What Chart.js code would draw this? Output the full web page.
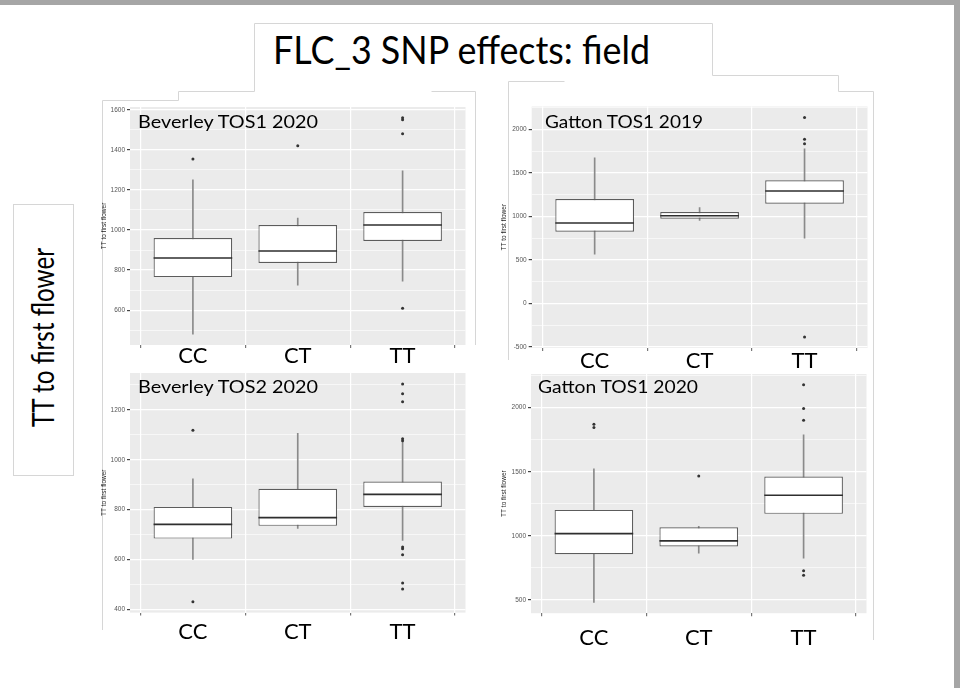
<!DOCTYPE html>
<html>
<head>
<meta charset="utf-8">
<script src="https://cdn.jsdelivr.net/npm/chart.js@4.4.1/dist/chart.umd.min.js"></script>
<style>
html,body{margin:0;padding:0;background:#fff;}
body{width:971px;height:688px;position:relative;overflow:hidden;font-family:Lato,"Open Sans",sans-serif;}
.pane{position:absolute;}
.txt{position:absolute;white-space:nowrap;line-height:1;color:#000;transform-origin:0 0;font-family:Lato,sans-serif;}
</style>
</head>
<body>
<svg width="971" height="688" style="position:absolute;left:0;top:0" xmlns="http://www.w3.org/2000/svg">
  <g fill="none" stroke="#d6d6d6" stroke-width="1">
    <polyline points="254.5,91.5 254.5,23.5 712.5,23.5 712.5,75.5 838.5,75.5 838.5,91.5 873.5,91.5 873.5,640"/>
    <polyline points="102.5,630 102.5,100.5 178.5,100.5 178.5,91.5 254.5,91.5"/>
    <polyline points="431.5,91.5 475.5,91.5 475.5,345"/>
    <polyline points="508.5,360 508.5,81.5 564.5,81.5"/>
    <rect x="13.5" y="204.5" width="60" height="271"/>
  </g>
</svg>
<div style="position:absolute;left:0;top:0;width:960px;height:5px;background:#a6a6a6"></div>
<div style="position:absolute;left:954px;top:0;width:6px;height:688px;background:#a6a6a6"></div>

<div class="pane" style="left:95px;top:93px;width:372px;height:287px"><canvas id="c1"></canvas></div>
<div class="pane" style="left:95px;top:360px;width:372px;height:285px"><canvas id="c2"></canvas></div>
<div class="pane" style="left:495px;top:93px;width:374px;height:290px"><canvas id="c3"></canvas></div>
<div class="pane" style="left:495px;top:360px;width:373px;height:290px"><canvas id="c4"></canvas></div>

<div id="t0" class="txt" style="left:273px;top:30px;font-size:38px">FLC_3 SNP effects: field</div>
<div id="tl" class="txt" style="left:27px;top:427px;font-size:31px">TT to first flower</div>
<div id="t1" class="txt" style="left:138px;top:112px;font-size:18px">Beverley TOS1 2020</div>
<div id="t2" class="txt" style="left:138px;top:377px;font-size:18px">Beverley TOS2 2020</div>
<div id="t3" class="txt" style="left:545px;top:112px;font-size:18px">Gatton TOS1 2019</div>
<div id="t4" class="txt" style="left:538px;top:377px;font-size:18px">Gatton TOS1 2020</div>

<script>
// ---------- data ----------
const categories = ['CC', 'CT', 'TT'];

// Beverley TOS1 2020
const bev1Lower   = [480, 725, 745];
const bev1Q1      = [765, 835, 945];
const bev1Median  = [860, 895, 1025];
const bev1Q3      = [960, 1025, 1090];
const bev1Upper   = [1250, 1060, 1295];
const bev1Outliers = [[1355], [1420], [1560, 1550, 1480, 610]];
const bev1YTicks  = [600, 800, 1000, 1200, 1400, 1600];

// Beverley TOS2 2020
const bev2Lower   = [600, 725, 677];
const bev2Q1      = [684, 735, 811];
const bev2Median  = [741, 768, 861];
const bev2Q3      = [811, 884, 913];
const bev2Upper   = [923, 1106, 1071];
const bev2Outliers = [[1118, 431], [], [1304, 1264, 1232, 1084, 1076, 650, 643, 619, 506, 482]];
const bev2YTicks  = [400, 600, 800, 1000, 1200];

// Gatton TOS1 2019
const gat19Lower  = [566, 955, 750];
const gat19Q1     = [824, 974, 1146];
const gat19Median = [924, 1008, 1292];
const gat19Q3     = [1200, 1051, 1415];
const gat19Upper  = [1672, 1100, 1776];
const gat19Outliers = [[], [], [2136, 1885, 1835, -385]];
const gat19YTicks = [-500, 0, 500, 1000, 1500, 2000];

// Gatton TOS1 2020
const gat20Lower  = [482, 865, 826];
const gat20Q1     = [857, 917, 1172];
const gat20Median = [1018, 961, 1317];
const gat20Q3     = [1203, 1068, 1463];
const gat20Upper  = [1523, 1075, 1788];
const gat20Outliers = [[1870, 1846], [1468], [2178, 1994, 1902, 729, 694]];
const gat20YTicks = [500, 1000, 1500, 2000];

const yAxisTitle = 'TT to first flower';

// ---------- chart building ----------
const bgPlugin = {
  id: 'panelBg',
  beforeDraw(chart) {
    const a = chart.chartArea, ctx = chart.ctx;
    ctx.save();
    ctx.fillStyle = '#ebebeb';
    ctx.fillRect(a.left, a.top, a.right - a.left, a.bottom - a.top);
    ctx.restore();
  }
};

function halfBox(ctx) {
  const s = ctx.chart.scales.x;
  return Math.abs(s.getPixelForValue(2) - s.getPixelForValue(1)) * 0.75 / 2;
}

function gridValues(majors, min, max) {
  const minor = (majors[1] - majors[0]) / 2;
  const out = [];
  for (let v = majors[0] - minor; v <= majors[majors.length - 1] + minor + 1e-9; v += minor) {
    if (v >= min - 1e-9 && v <= max + 1e-9) out.push(v);
  }
  return out;
}

function makePanel(id, d, lay) {
  const xs = categories.map((c, i) => i + 1);
  const all = d.lower.concat(d.upper, d.outliers.flat());
  const lo = Math.min(...all), hi = Math.max(...all);
  const pad = (hi - lo) * 0.05;
  const majors = d.ticks;
  new Chart(document.getElementById(id), {
    data: {
      datasets: [
        { type: 'line', data: xs.map((x, i) => ({ x, y: d.median[i] })), showLine: false,
          pointStyle: 'line', pointRadius: halfBox, pointHoverRadius: halfBox,
          pointBorderColor: '#2e2e2e', pointBorderWidth: 1.6, borderColor: '#2e2e2e' },
        { type: 'line', data: d.outliers.flatMap((arr, i) => arr.map(v => ({ x: i + 1, y: v }))),
          showLine: false, pointStyle: 'circle', pointRadius: 1.5, pointHoverRadius: 1.5,
          pointBackgroundColor: '#333', pointBorderWidth: 0, borderColor: '#333' },
        { type: 'bar', data: xs.map((x, i) => ({ x, y: [d.q1[i], d.q3[i]] })),
          backgroundColor: '#ffffff', borderColor: '#5c5c5c', borderWidth: 1.2, borderSkipped: false,
          barPercentage: 0.75, categoryPercentage: 1, grouped: false },
        { type: 'bar', data: xs.map((x, i) => ({ x, y: [d.lower[i], d.upper[i]] })),
          backgroundColor: '#8a8a8a', barThickness: 1, grouped: false }
      ]
    },
    options: {
      responsive: true, maintainAspectRatio: false, animation: false,
      layout: { padding: { top: lay.top, left: 0, right: 0, bottom: 0 } },
      plugins: { legend: { display: false }, tooltip: { enabled: false } },
      scales: {
        x: {
          type: 'linear', min: 0.4, max: 3.6, offset: false,
          afterBuildTicks: s => { s.ticks = xs.map(v => ({ value: v })); },
          ticks: { autoSkip: false, maxRotation: 0,
                   font: { family: 'Lato', size: 22, lineHeight: 1 }, color: '#000', padding: lay.xPad,
                   callback: v => categories[Math.round(v) - 1] ?? '' },
          grid: { color: '#ffffff', lineWidth: 1.2, tickColor: '#777', tickLength: 3 },
          border: { display: false },
          afterFit: s => { s.height = lay.xH; }
        },
        y: {
          type: 'linear', min: lo - pad, max: hi + pad,
          afterBuildTicks: s => { s.ticks = gridValues(majors, s.min, s.max).map(v => ({ value: v })); },
          ticks: { autoSkip: false,
                   font: { family: 'Liberation Sans', size: 6.5 }, color: '#555', padding: 2,
                   callback: v => majors.includes(v) ? String(v) : '' },
          grid: { color: '#ffffff',
                  lineWidth: c => (c.tick && majors.includes(c.tick.value)) ? 1.2 : 0.6,
                  tickColor: c => (c.tick && majors.includes(c.tick.value)) ? '#444' : 'rgba(0,0,0,0)',
                  tickLength: 3 },
          border: { display: false },
          title: { display: true, text: yAxisTitle, font: { family: 'Liberation Sans', size: 6.5 },
                   color: '#222', padding: { top: 5, bottom: 0 } },
          afterFit: s => { s.width = lay.yW; }
        }
      }
    },
    plugins: [bgPlugin]
  });
}

makePanel('c1', { lower: bev1Lower, q1: bev1Q1, median: bev1Median, q3: bev1Q3, upper: bev1Upper, outliers: bev1Outliers, ticks: bev1YTicks },
          { top: 14, yW: 35, xH: 35, xPad: -3 });
makePanel('c2', { lower: bev2Lower, q1: bev2Q1, median: bev2Median, q3: bev2Q3, upper: bev2Upper, outliers: bev2Outliers, ticks: bev2YTicks },
          { top: 13, yW: 35, xH: 32.4, xPad: 5 });
makePanel('c3', { lower: gat19Lower, q1: gat19Q1, median: gat19Median, q3: gat19Q3, upper: gat19Upper, outliers: gat19Outliers, ticks: gat19YTicks },
          { top: 13.5, yW: 36.7, xH: 35, xPad: -1 });
makePanel('c4', { lower: gat20Lower, q1: gat20Q1, median: gat20Median, q3: gat20Q3, upper: gat20Upper, outliers: gat20Outliers, ticks: gat20YTicks },
          { top: 14, yW: 36, xH: 36.8, xPad: 11 });

// ---------- text fitting ----------
function fit(id, target, rotate) {
  const el = document.getElementById(id);
  const w = el.getBoundingClientRect().width;
  const k = target / w;
  el.style.transform = rotate ? 'rotate(-90deg) scaleX(' + k + ')' : 'scaleX(' + k + ')';
}
fit('t0', 377);
fit('tl', 179, true);
fit('t1', 180);
fit('t2', 180);
fit('t3', 158);
fit('t4', 160);
</script>
</body>
</html>
